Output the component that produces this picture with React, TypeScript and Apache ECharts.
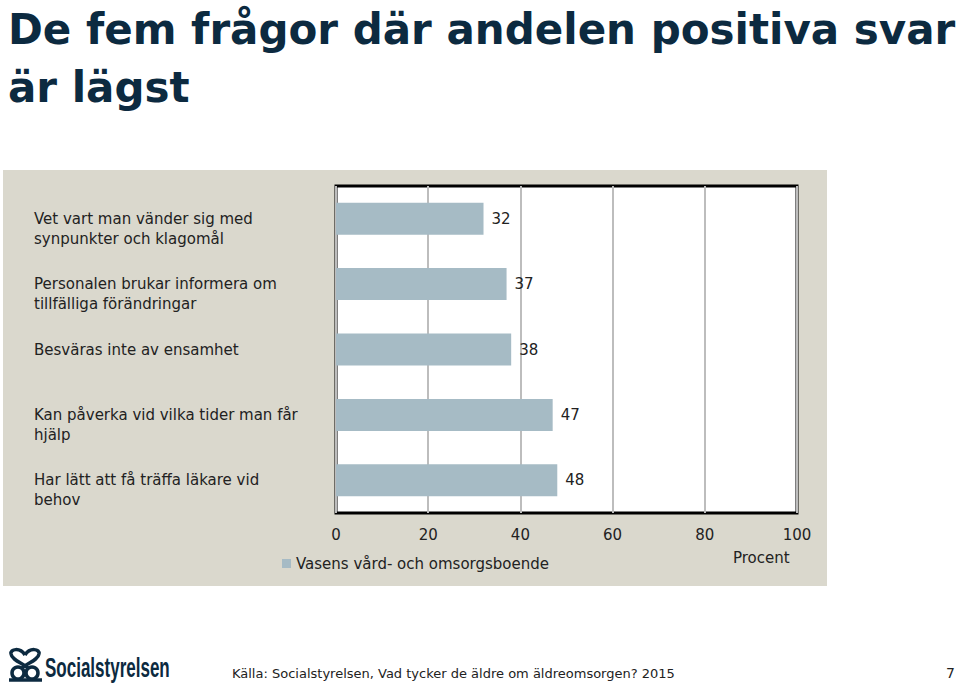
import React, { useEffect, useRef } from "react";
import * as echarts from "echarts";

const categories = [
  "Vet vart man vänder sig med\nsynpunkter och klagomål",
  "Personalen brukar informera om\ntillfälliga förändringar",
  "Besväras inte av ensamhet",
  "Kan påverka vid vilka tider man får\nhjälp",
  "Har lätt att få träffa läkare vid\nbehov",
];
const seriesName = "Vasens vård- och omsorgsboende";
const values = [32, 37, 38, 47, 48];
const xTicks = { min: 0, max: 100, interval: 20 };
const titleText = "De fem frågor där andelen positiva svar\när lägst";
const axisName = "Procent";
const sourceText = "Källa: Socialstyrelsen, Vad tycker de äldre om äldreomsorgen? 2015";
const pageNo = "7";
const logoText = "Socialstyrelsen";

export default function App() {
  const ref = useRef<HTMLDivElement>(null);
  useEffect(() => {
    if (!ref.current) return;
    const chart = echarts.init(ref.current, undefined, { renderer: "svg" });
    const font = "DejaVu Sans";
    const navy = "#0c2a40";
    const stroke = { fill: "none", stroke: navy, lineWidth: 3.5 };
    chart.setOption({
      animation: false,
      backgroundColor: "#ffffff",
      textStyle: { fontFamily: font },
      title: {
        text: titleText,
        left: 3,
        top: -5,
        textStyle: {
          fontFamily: font,
          fontSize: 42,
          fontWeight: "bold",
          color: navy,
          lineHeight: 58,
        },
      },
      graphic: [
        {
          type: "rect",
          z: -10,
          silent: true,
          shape: { x: 3, y: 170, width: 824, height: 416 },
          style: { fill: "#dad8cd" },
        },
        {
          type: "text",
          x: 733,
          y: 550,
          style: { text: axisName, fontFamily: font, fontSize: 15, fill: "#222" },
        },
        {
          type: "text",
          x: 232,
          y: 667,
          style: { text: sourceText, fontFamily: font, fontSize: 13, fill: "#222" },
        },
        {
          type: "text",
          x: 946,
          y: 666,
          style: { text: pageNo, fontFamily: font, fontSize: 14, fill: "#222" },
        },
        {
          type: "text",
          x: 45,
          y: 655,
          scaleX: 0.63,
          style: {
            text: logoText,
            fontFamily: "Liberation Sans",
            fontSize: 27,
            fontWeight: "bold",
            fill: navy,
          },
        },
        {
          type: "group",
          x: 8,
          y: 648,
          children: [
            { type: "bezierCurve", shape: { x1: 17, y1: 7, cpx1: 12, cpy1: -1, x2: 3, y2: 6, cpx2: 2, cpy2: 1 }, style: stroke },
            { type: "bezierCurve", shape: { x1: 3, y1: 6, cpx1: 4, cpy1: 12, x2: 20, y2: 20, cpx2: 14, cpy2: 15 }, style: stroke },
            { type: "bezierCurve", shape: { x1: 17, y1: 7, cpx1: 22, cpy1: -1, x2: 31, y2: 6, cpx2: 32, cpy2: 1 }, style: stroke },
            { type: "bezierCurve", shape: { x1: 31, y1: 6, cpx1: 30, cpy1: 12, x2: 14, y2: 20, cpx2: 20, cpy2: 15 }, style: stroke },
            { type: "circle", shape: { cx: 10, cy: 25, r: 6 }, style: stroke },
            { type: "circle", shape: { cx: 24, cy: 25, r: 6 }, style: stroke },
            { type: "line", shape: { x1: 1, y1: 32, x2: 34, y2: 32 }, style: stroke },
          ],
        },
      ],
      legend: {
        left: 277,
        top: 551,
        icon: "rect",
        itemWidth: 9,
        itemHeight: 9,
        itemGap: 5,
        textStyle: { fontFamily: font, fontSize: 15, color: "#222" },
        data: [seriesName],
      },
      grid: {
        left: 336,
        top: 186,
        width: 461,
        height: 327,
        show: true,
        backgroundColor: "#ffffff",
        borderColor: "#000000",
        borderWidth: 3,
        containLabel: false,
      },
      xAxis: {
        type: "value",
        min: xTicks.min,
        max: xTicks.max,
        interval: xTicks.interval,
        axisLine: { show: false },
        axisTick: { show: false },
        splitLine: { show: true, lineStyle: { color: "#bdbdbd", width: 2 } },
        axisLabel: { fontFamily: font, fontSize: 15, color: "#222", margin: 14 },
      },
      yAxis: {
        type: "category",
        inverse: true,
        data: categories,
        axisLine: { show: false },
        axisTick: { show: false },
        axisLabel: {
          align: "left",
          margin: 302,
          fontFamily: font,
          fontSize: 15,
          lineHeight: 20,
          color: "#222",
          verticalAlign: "middle",
          padding: [3, 0, 0, 0],
          formatter: (v: string) => (v.indexOf("\n") >= 0 ? "\n" + v : v),
        },
      },
      series: [
        {
          name: seriesName,
          type: "bar",
          data: values,
          barCategoryGap: "51%",
          itemStyle: { color: "#a6bbc5" },
          label: {
            show: true,
            position: "right",
            distance: 8,
            fontFamily: font,
            fontSize: 15,
            color: "#222",
          },
        },
      ],
    });
    return () => chart.dispose();
  }, []);
  return (
    <div
      ref={ref}
      style={{ position: "fixed", left: 0, top: 0, width: 959, height: 688 }}
    />
  );
}
